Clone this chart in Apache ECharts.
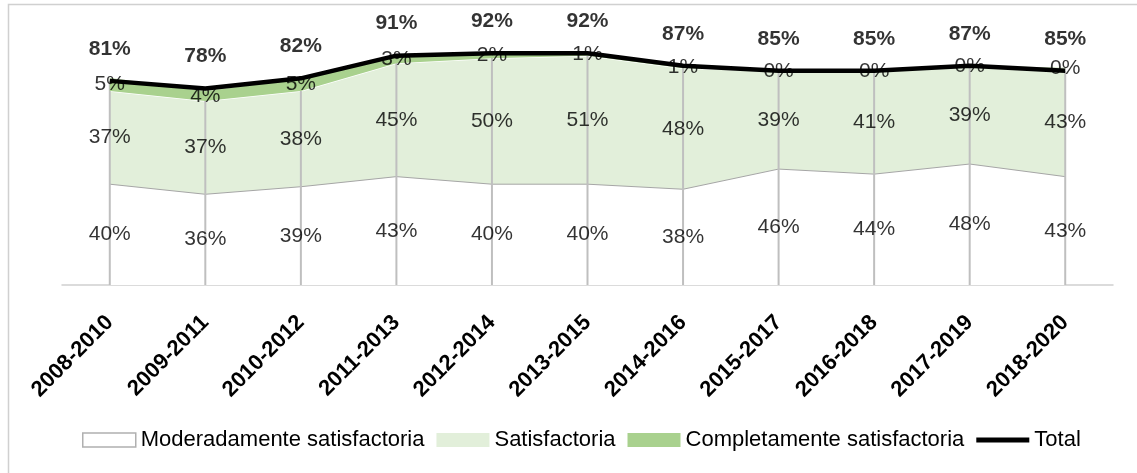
<!DOCTYPE html>
<html>
<head>
<meta charset="utf-8">
<script src="https://cdn.jsdelivr.net/npm/echarts@6/dist/echarts.min.js"></script>
<style>
html,body{margin:0;padding:0;background:#fff;}
#c{width:1137px;height:473px;}
</style>
</head>
<body>
<div id="c"></div>
<script>
const categories = ['2008-2010','2009-2011','2010-2012','2011-2013','2012-2014','2013-2015','2014-2016','2015-2017','2016-2018','2017-2019','2018-2020'];
const moderada = [40,36,39,43,40,40,38,46,44,48,43];
const satisfactoria = [37,37,38,45,50,51,48,39,41,39,43];
const completa = [5,4,5,3,2,1,1,0,0,0,0];
const total = [81,78,82,91,92,92,87,85,85,87,85];

const FONT = 'Liberation Sans, Arial, sans-serif';

// label anchor positions (derived from the arrays above)
const midMod = moderada.map((v,i)=>({value:[i, v/2], lab:v}));
const midSat = satisfactoria.map((v,i)=>({value:[i, moderada[i] + v/2], lab:v}));
const midCom = completa.map((v,i)=>({value:[i, moderada[i] + satisfactoria[i] + v/2], lab:v}));
const topTot = total.map((v,i)=>({value:[i, v], lab:v}));

function labelSeries(name, data, pos, bold, dist){
  return {
    name: name, type:'scatter', data:data, symbol:'circle', symbolSize:1,
    itemStyle:{color:'rgba(0,0,0,0)'}, z:10, silent:true,
    label:{show:true, position:pos, distance:dist || 0, color:'#000', fontFamily:FONT, fontSize:21,
      fontWeight: bold ? 'bold' : 'normal',
      formatter: p => p.data.lab + '%'}
  };
}

const chart = echarts.init(document.getElementById('c'), null, {renderer:'canvas'});
chart.setOption({
  animation:false,
  backgroundColor:'#fff',
  graphic:[{type:'rect', shape:{x:8.5,y:4.5,width:1140,height:480}, style:{fill:'none', stroke:'#d0d0d0', lineWidth:1.5}, z:-1}],
  grid:{left:62, right:24, top:33, bottom:188},
  legend:{
    left:77, top:424, itemWidth:53, itemHeight:14, itemGap:12,
    textStyle:{fontFamily:FONT, fontSize:22, color:'#000'},
    data:[
      {name:'Moderadamente satisfactoria', icon:'rect', itemStyle:{color:'#fff', borderColor:'#b0b0b0', borderWidth:1.5}},
      {name:'Satisfactoria', icon:'rect', itemStyle:{color:'#e2efda', borderWidth:0}},
      {name:'Completamente satisfactoria', icon:'rect', itemStyle:{color:'#a9d18e', borderWidth:0}},
      {name:'Total', icon:'path://M0,0H53V5H0Z', itemStyle:{color:'#000', borderWidth:0}}
    ]
  },
  xAxis:{
    type:'category', data:categories, boundaryGap:true,
    axisLine:{lineStyle:{color:'#d0d0d0', width:1.5}},
    axisTick:{show:false},
    axisLabel:{rotate:45, margin:34, color:'#000', fontFamily:FONT, fontSize:22, fontWeight:'bold', interval:0}
  },
  yAxis:{type:'value', min:0, max:100, show:false, splitLine:{show:false}},
  series:[
    {name:'Moderadamente satisfactoria', type:'line', stack:'a', data:moderada, symbol:'none', z:2,
      lineStyle:{color:'#a6a6a6', width:1}, itemStyle:{color:'#fff'}, areaStyle:{color:'#ffffff', opacity:1}},
    {name:'Satisfactoria', type:'line', stack:'a', data:satisfactoria, symbol:'none', z:2,
      lineStyle:{color:'#ffffff', width:1.5}, itemStyle:{color:'#e2efda'}, areaStyle:{color:'#e2efda', opacity:1}},
    {name:'Drop', type:'bar', data:total, barWidth:2, z:3, silent:true,
      itemStyle:{color:'#bfbfbf'}},
    {name:'Completamente satisfactoria', type:'line', stack:'a', data:completa, symbol:'none', z:4,
      lineStyle:{color:'#c5e0b4', width:1}, itemStyle:{color:'#a9d18e'}, areaStyle:{color:'#a9d18e', opacity:1}},
    {name:'Total', type:'line', data:total, symbol:'none', z:6,
      lineStyle:{color:'#000', width:4.5}, itemStyle:{color:'#000'}},
    labelSeries('lab1', midMod, 'inside', false),
    labelSeries('lab2', midSat, 'inside', false),
    labelSeries('lab3', midCom, 'inside', false),
    labelSeries('lab4', topTot, 'top', true, 21)
  ]
});
</script>
</body>
</html>
